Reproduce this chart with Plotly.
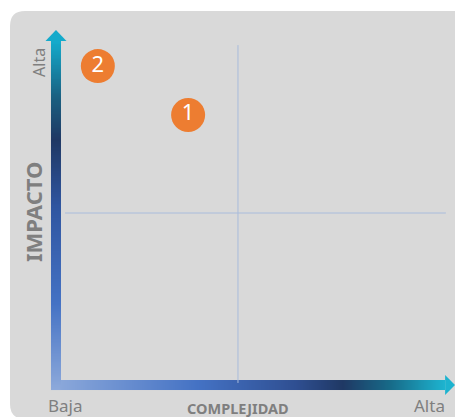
import numpy as np
import plotly.graph_objects as go

# ---- data ----
item_labels = ["1", "2"]
complejidad = [3.63, 1.15]   # x (0..10, midpoint 5)
impacto = [7.85, 9.27]       # y (0..10, midpoint 5)
mid_x = 5.0
mid_y = 5.0
axis_title_x = "COMPLEJIDAD"
axis_title_y = "IMPACTO"
low_label = "Baja"
high_label = "Alta"

# ---- styling ----
W, H = 455, 417
X_RANGE = [-1.538, 10.962]
Y_RANGE = [-0.930, 11.192]
PX_X = W / (X_RANGE[1] - X_RANGE[0])
PX_Y = H / (Y_RANGE[1] - Y_RANGE[0])

BG = "#d9d9d9"
GRAY_TXT = "#7f7f7f"
ORANGE = "#ed7d31"
CROSS = "#a9bcdc"
FONT = "Noto Sans"

shaft_half_x = 5 / PX_X
shaft_half_y = 5 / PX_Y
head_half_x = 10.5 / PX_X
head_half_y = 10 / PX_Y

h_start, h_head, h_tip = -0.137, 10.69, 10.962
v_start, v_head, v_tip = -0.145, 10.0, 10.32

h_scale = [[0.0, "#8eaadb"], [0.37, "#4472c4"], [0.62, "#2f4f92"], [0.74, "#1f3864"],
           [0.86, "#176a88"], [1.0, "#1db3cf"]]
v_scale = [[0.0, "#8eaadb"], [0.25, "#4472c4"], [0.53, "#2f55a0"], [0.72, "#1f3864"],
           [0.84, "#1a5f80"], [1.0, "#14aacb"]]

fig = go.Figure()

N = 200
# horizontal gradient shaft
hx = np.linspace(h_start, h_head, N + 1)
fig.add_trace(go.Heatmap(
    x=hx, y=[-shaft_half_y, shaft_half_y], z=[np.linspace(0, 1, N)],
    colorscale=h_scale, zmin=0, zmax=1, showscale=False, hoverinfo="skip", zsmooth="best"))
# vertical gradient shaft
vy = np.linspace(v_start, v_head, N + 1)
fig.add_trace(go.Heatmap(
    x=[-shaft_half_x, shaft_half_x], y=vy, z=[[v] for v in np.linspace(0, 1, N)],
    colorscale=v_scale, zmin=0, zmax=1, showscale=False, hoverinfo="skip", zsmooth="best"))

# crosshair lines
fig.add_trace(go.Scatter(x=[mid_x, mid_x], y=[0.06, 9.88], mode="lines",
                         line=dict(color=CROSS, width=1), hoverinfo="skip", showlegend=False))
fig.add_trace(go.Scatter(x=[0.25, 10.71], y=[mid_y, mid_y], mode="lines",
                         line=dict(color=CROSS, width=1), hoverinfo="skip", showlegend=False))

# arrow heads
fig.add_trace(go.Scatter(x=[h_head, h_tip, h_head, h_head], y=[-head_half_y, 0, head_half_y, -head_half_y],
                         fill="toself", fillcolor=h_scale[-1][1], mode="lines",
                         line=dict(width=0, color=h_scale[-1][1]), hoverinfo="skip", showlegend=False))
fig.add_trace(go.Scatter(x=[-head_half_x, 0, head_half_x, -head_half_x], y=[v_head, v_tip, v_head, v_head],
                         fill="toself", fillcolor=v_scale[-1][1], mode="lines",
                         line=dict(width=0, color=v_scale[-1][1]), hoverinfo="skip", showlegend=False))

# items
fig.add_trace(go.Scatter(
    x=complejidad, y=impacto, mode="markers+text", text=item_labels,
    marker=dict(size=34, color=ORANGE, line=dict(width=0)),
    textposition="middle center", textfont=dict(family=FONT, size=22, color="white"),
    hoverinfo="skip", showlegend=False))

annotations = [
    dict(x=-0.467, y=9.39, text=high_label, textangle=-90, font=dict(family=FONT, size=16, color=GRAY_TXT)),
    dict(x=-0.63, y=5.03, text="<b>%s</b>" % axis_title_y, textangle=-90,
         font=dict(family=FONT, size=22, color=GRAY_TXT)),
    dict(x=0.27, y=-0.61, text=low_label, font=dict(family=FONT, size=17, color=GRAY_TXT)),
    dict(x=mid_x, y=-0.655, text="<b>%s</b>" % axis_title_x, font=dict(family=FONT, size=14.5, color=GRAY_TXT)),
    dict(x=10.27, y=-0.61, text=high_label, font=dict(family=FONT, size=17, color=GRAY_TXT)),
]
for a in annotations:
    a.update(xref="x", yref="y", showarrow=False, xanchor="center", yanchor="middle")

# rounded grey panel (paper coords)
x0, y0, x1, y1 = 10 / W, 1 - 11 / H, 1.05, 1 - 419 / H
rx, ry = 15 / W, 15 / H
path = (f"M {x0+rx},{y0} L {x1},{y0} L {x1},{y1} L {x0+rx},{y1} "
        f"Q {x0},{y1} {x0},{y1+ry} L {x0},{y0-ry} Q {x0},{y0} {x0+rx},{y0} Z")

fig.update_layout(
    width=W, height=H, autosize=False,
    margin=dict(l=0, r=0, t=0, b=0, pad=0),
    paper_bgcolor="white", plot_bgcolor="rgba(0,0,0,0)",
    xaxis=dict(range=X_RANGE, visible=False, fixedrange=True),
    yaxis=dict(range=Y_RANGE, visible=False, fixedrange=True),
    shapes=[dict(type="path", path=path, xref="paper", yref="paper",
                 fillcolor=BG, line=dict(width=0), layer="below")],
    annotations=annotations,
    showlegend=False,
)

fig.write_html("out.html", config={"displayModeBar": False, "staticPlot": True},
               post_script="document.body.style.margin='0';document.body.style.overflow='hidden';")
